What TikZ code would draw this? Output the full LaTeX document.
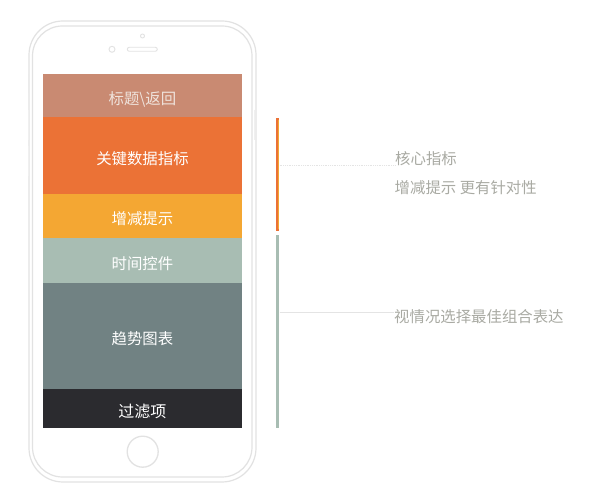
\documentclass[tikz,border=0pt]{standalone}
\usepackage{fontspec}
\setmainfont{Noto Sans CJK SC}
\definecolor{frame}{HTML}{E2E2E2}
\definecolor{ctitle}{HTML}{C98A72}
\definecolor{corange}{HTML}{EB7236}
\definecolor{cyellow}{HTML}{F4A733}
\definecolor{ctime}{HTML}{A8BDB3}
\definecolor{ctrend}{HTML}{718283}
\definecolor{cfilter}{HTML}{2B2B2F}
\definecolor{ctitletext}{HTML}{EFE3DC}
\definecolor{note}{HTML}{A9AAA3}
\definecolor{lead}{HTML}{E4E4E4}
\tikzset{
  band/.style={inner sep=0pt, outer sep=0pt, minimum width=199.5pt, anchor=north west, text=white, text height=20pt, text depth=2pt, font=\fontsize{15.4}{15.4}\selectfont},
  notetext/.style={anchor=west, inner sep=0pt, text=note, font=\fontsize{15.4}{15.4}\selectfont},
  leader/.style={draw=lead, line width=0.8pt},
  phoneline/.style={draw=frame, line width=1.2pt}
}
\begin{document}
\begin{tikzpicture}[x=1pt,y=-1pt]
\useasboundingbox[fill=white] (0,0) rectangle (590,502);
% phone body
\path[phoneline] [rounded corners=34pt] (29,21) rectangle (256,482);
\path[phoneline] [rounded corners=30pt] (32.5,26) rectangle (252,477);
% side buttons
\draw[draw=frame!70, line width=1pt] (28,75) -- (28,93);
\draw[draw=frame!50, line width=0.8pt] (28,110) -- (28,140);
\draw[draw=frame!50, line width=0.8pt] (28,146) -- (28,176);
\draw[draw=frame!50, line width=0.8pt] (254.5,110) -- (254.5,140);
% camera / speaker
\node[circle, draw=frame, line width=0.9pt, minimum size=4pt, inner sep=0pt] (cam) at (142.5,36) {};
\node[circle, draw=frame, line width=0.9pt, minimum size=6pt, inner sep=0pt] (sens) at (112,49.3) {};
\node[rounded corners=2pt, draw=frame, line width=0.9pt, minimum width=30pt, minimum height=4pt, inner sep=0pt] (spk) at (142.3,49.3) {};
% home button
\node[circle, draw=frame, line width=1.3pt, minimum size=31pt, inner sep=0pt] (home) at (142.7,451.7) {};
% screen bands
\node[band, fill=ctitle, minimum height=43pt, text=ctitletext] (title) at (42.7,74) {标题\textbackslash 返回};
\node[band, fill=corange, minimum height=77.5pt] (key) at (42.7,116.7) {关键数据指标};
\node[band, fill=cyellow, minimum height=43.5pt] (inc) at (42.7,194.2) {增减提示};
\node[band, fill=ctime, minimum height=45pt] (time) at (42.7,237.7) {时间控件};
\node[band, fill=ctrend, minimum height=106.3pt] (trend) at (42.7,282.7) {趋势图表};
\node[band, fill=cfilter, minimum height=39pt, font=\fontsize{16}{16}\selectfont] (filter) at (42.7,389) {过滤项};
% side bars
\fill[corange] (275.5,118) rectangle (278.5,231);
\fill[cyellow] (277.6,120) rectangle (278.5,229);
\fill[ctime] (275.5,235) rectangle (278.5,428);
% notes
\node[notetext] (n1) at (395,159) {核心指标};
\node[notetext] (n2) at (394.5,187.5) {增减提示 更有针对性};
\node[notetext] (n3) at (394,316.5) {视情况选择最佳组合表达};
\coordinate (b1) at (279.5,165);
\coordinate (b2) at (279.5,312);
\draw[leader, densely dotted] (b1) -- (b1 -| n1.west);
\draw[leader] (b2) -- (b2 -| n3.west);
\end{tikzpicture}
\end{document}
